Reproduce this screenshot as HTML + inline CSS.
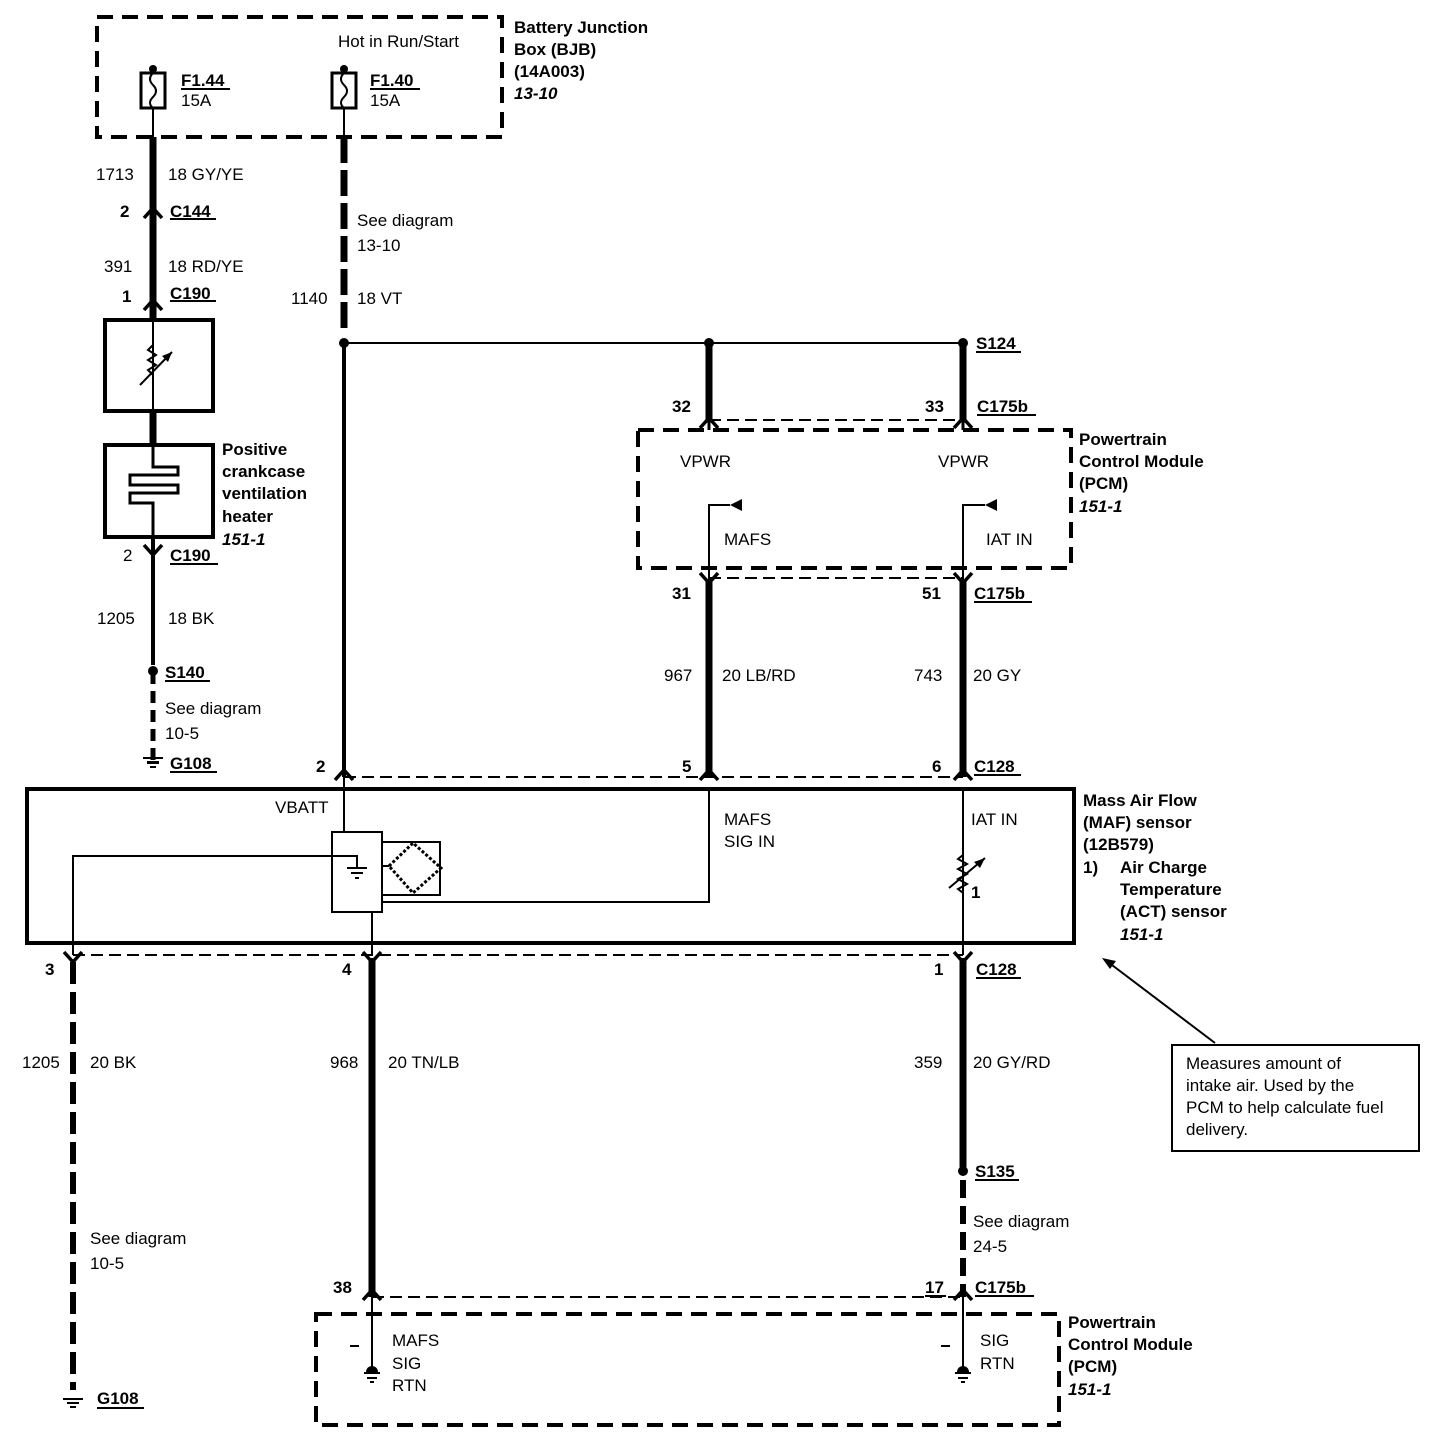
<!DOCTYPE html>
<html><head><meta charset="utf-8"><style>
html,body{margin:0;padding:0;background:#fff}
svg{display:block}
text{font-family:"Liberation Sans",Arial,sans-serif;font-size:17px;fill:#000}
.b{font-weight:bold}
.i{font-weight:bold;font-style:italic}
</style></head><body>
<svg width="1440" height="1456" viewBox="0 0 1440 1456" xmlns="http://www.w3.org/2000/svg">
<g fill="none" stroke="#000">
<rect x="97" y="17" width="405" height="120" stroke-width="4" stroke-dasharray="16,9"/>
<rect x="141" y="73" width="24" height="35" stroke-width="3"/>
<rect x="332" y="73" width="24" height="35" stroke-width="3"/>
<path d="M153 73 q-6 6 0 12 q6 6 0 12 q-6 6 0 11" stroke-width="2"/>
<path d="M344 73 q-6 6 0 12 q6 6 0 12 q-6 6 0 11" stroke-width="2"/>
<line x1="153" y1="108" x2="153" y2="137" stroke-width="2"/>
<line x1="344" y1="108" x2="344" y2="137" stroke-width="2"/>
<line x1="153" y1="137" x2="153" y2="320" stroke-width="7"/>
<rect x="105" y="320" width="108" height="91" stroke-width="4"/>
<line x1="153" y1="320" x2="153" y2="411" stroke-width="2"/>
<path d="M153 345 l-5 5 l8 5 l-8 5 l8 5 l-8 5 l5 5" stroke-width="2"/>
<line x1="140" y1="385" x2="172" y2="352" stroke-width="2"/>
<line x1="153" y1="411" x2="153" y2="445" stroke-width="7"/>
<rect x="105" y="445" width="108" height="92" stroke-width="4"/>
<path d="M153 445 V467 H178 V475 H130 V485 H178 V493 H130 V503 H153 V537" stroke-width="3"/>
<line x1="153" y1="537" x2="153" y2="665" stroke-width="4"/>
<line x1="153" y1="672" x2="153" y2="760" stroke-width="5" stroke-dasharray="12,7"/>
<line x1="344" y1="137" x2="344" y2="335" stroke-width="7" stroke-dasharray="26,7"/>
<line x1="344" y1="343" x2="344" y2="777" stroke-width="4"/>
<line x1="344" y1="343" x2="963" y2="343" stroke-width="2"/>
<line x1="709" y1="343" x2="709" y2="420" stroke-width="7"/>
<line x1="963" y1="343" x2="963" y2="420" stroke-width="7"/>
<rect x="638" y="430" width="433" height="138" stroke-width="4" stroke-dasharray="16,9"/>
<line x1="709" y1="420" x2="963" y2="420" stroke-width="2" stroke-dasharray="12,6"/>
<line x1="709" y1="420" x2="709" y2="430" stroke-width="3"/>
<line x1="963" y1="420" x2="963" y2="430" stroke-width="3"/>
<path d="M709 580 V505 H730" stroke-width="2"/>
<path d="M963 580 V505 H985" stroke-width="2"/>
<line x1="709" y1="578" x2="963" y2="578" stroke-width="2" stroke-dasharray="12,6"/>
<line x1="709" y1="580" x2="709" y2="777" stroke-width="7"/>
<line x1="963" y1="580" x2="963" y2="777" stroke-width="7"/>
<line x1="344" y1="777" x2="963" y2="777" stroke-width="2" stroke-dasharray="12,6"/>
<rect x="27" y="789" width="1047" height="154" stroke-width="4"/>
<line x1="344" y1="777" x2="344" y2="832" stroke-width="2"/>
<rect x="332" y="832" width="50" height="80" stroke-width="2"/>
<path d="M73 955 V856 H357 V867" stroke-width="2"/>
<line x1="347" y1="868" x2="367" y2="868" stroke-width="2"/>
<line x1="351" y1="873" x2="363" y2="873" stroke-width="2"/>
<line x1="355" y1="878" x2="359" y2="878" stroke-width="2"/>
<path d="M382 842 H440 V895 H382" stroke-width="2"/>
<path d="M382 866 H389" stroke-width="2"/>
<path d="M389 866 L413 843 L441 868 L413 893 Z" stroke-width="3" stroke-dasharray="3,2"/>
<path d="M382 902 H709 V789" stroke-width="2"/>
<line x1="372" y1="912" x2="372" y2="955" stroke-width="2"/>
<line x1="963" y1="789" x2="963" y2="955" stroke-width="2"/>
<path d="M963 855 l-5 4 l9 5 l-9 5 l9 5 l-9 5 l9 5 l-9 5 l5 4" stroke-width="2"/>
<line x1="949" y1="888" x2="985" y2="858" stroke-width="2"/>
<line x1="73" y1="955" x2="963" y2="955" stroke-width="2" stroke-dasharray="12,6"/>
<line x1="73" y1="962" x2="73" y2="1390" stroke-width="6" stroke-dasharray="22,8"/>
<line x1="372" y1="958" x2="372" y2="1297" stroke-width="7"/>
<line x1="963" y1="958" x2="963" y2="1167" stroke-width="7"/>
<line x1="963" y1="1180" x2="963" y2="1297" stroke-width="6" stroke-dasharray="18,8"/>
<line x1="372" y1="1297" x2="963" y2="1297" stroke-width="2" stroke-dasharray="12,6"/>
<rect x="316" y="1314" width="743" height="111" stroke-width="4" stroke-dasharray="16,9"/>
<line x1="372" y1="1297" x2="372" y2="1368" stroke-width="2"/>
<line x1="963" y1="1297" x2="963" y2="1368" stroke-width="2"/>
<rect x="1172" y="1045" width="247" height="106" stroke-width="2"/>
<line x1="1215" y1="1043" x2="1108" y2="962" stroke-width="2"/>
<g stroke-width="3.5">
<path d="M144 218 L153 208 L162 218"/>
<path d="M144 310 L153 300 L162 310"/>
<path d="M700 428 L709 418 L718 428"/>
<path d="M954 428 L963 418 L972 428"/>
<path d="M335 780 L344 770 L353 780"/>
<path d="M700 780 L709 770 L718 780"/>
<path d="M954 780 L963 770 L972 780"/>
<path d="M363 1300 L372 1290 L381 1300"/>
<path d="M954 1300 L963 1290 L972 1300"/>
<path d="M144 545 L153 555 L162 545"/>
<path d="M700 573 L709 583 L718 573"/>
<path d="M954 573 L963 583 L972 573"/>
<path d="M64 952 L73 962 L82 952"/>
<path d="M363 952 L372 962 L381 952"/>
<path d="M954 952 L963 962 L972 952"/>
</g>
<g stroke-width="2">
<line x1="181" y1="89" x2="230" y2="89"/>
<line x1="370" y1="89" x2="420" y2="89"/>
<line x1="170" y1="219" x2="216" y2="219"/>
<line x1="170" y1="301" x2="216" y2="301"/>
<line x1="170" y1="564" x2="218" y2="564"/>
<line x1="165" y1="681" x2="210" y2="681"/>
<line x1="170" y1="772" x2="217" y2="772"/>
<line x1="976" y1="352" x2="1021" y2="352"/>
<line x1="977" y1="415" x2="1036" y2="415"/>
<line x1="974" y1="602" x2="1032" y2="602"/>
<line x1="974" y1="775" x2="1021" y2="775"/>
<line x1="976" y1="978" x2="1021" y2="978"/>
<line x1="975" y1="1180" x2="1019" y2="1180"/>
<line x1="975" y1="1296" x2="1034" y2="1296"/>
<line x1="97" y1="1408" x2="144" y2="1408"/>
<line x1="925" y1="1296" x2="946" y2="1296"/>
</g>
</g>
<g fill="#000">
<circle cx="153" cy="69" r="4"/><circle cx="344" cy="69" r="4"/>
<circle cx="344" cy="343" r="5"/><circle cx="709" cy="343" r="5"/><circle cx="963" cy="343" r="5"/>
<circle cx="153" cy="671" r="5"/><circle cx="963" cy="1171" r="5"/>
<path d="M730 505 L742 499 L742 511 Z"/><path d="M985 505 L997 499 L997 511 Z"/>
<path d="M172 352 l-10 4 l6 6 Z"/><path d="M985 858 l-11 4 l6 6 Z"/>
<path d="M1102 958 l14 3 l-6 8 Z"/>
<rect x="147" y="761" width="12" height="3"/><rect x="150" y="766" width="6" height="2"/><rect x="143" y="757" width="20" height="2"/>
<rect x="63" y="1398" width="20" height="2"/><rect x="67" y="1402" width="12" height="2"/><rect x="70" y="1406" width="6" height="2"/>
<path d="M366 1372 a6 6 0 0 1 12 0 Z"/><rect x="364" y="1372" width="16" height="2"/><rect x="367" y="1377" width="10" height="2"/><rect x="370" y="1381" width="4" height="2"/>
<path d="M957 1372 a6 6 0 0 1 12 0 Z"/><rect x="955" y="1372" width="16" height="2"/><rect x="958" y="1377" width="10" height="2"/><rect x="961" y="1381" width="4" height="2"/>
<rect x="350" y="1345" width="9" height="2"/><rect x="941" y="1345" width="9" height="2"/>
</g>
<text x="514" y="33" class="b">Battery Junction</text>
<text x="514" y="55" class="b">Box (BJB)</text>
<text x="514" y="77" class="b">(14A003)</text>
<text x="514" y="99" class="i">13-10</text>
<text x="338" y="47">Hot in Run/Start</text>
<text x="181" y="86" class="b">F1.44</text><text x="181" y="106">15A</text>
<text x="370" y="86" class="b">F1.40</text><text x="370" y="106">15A</text>
<text x="96" y="180">1713</text><text x="168" y="180">18 GY/YE</text>
<text x="120" y="217" class="b">2</text><text x="170" y="217" class="b">C144</text>
<text x="104" y="272">391</text><text x="168" y="272">18 RD/YE</text>
<text x="122" y="302" class="b">1</text><text x="170" y="299" class="b">C190</text>
<text x="357" y="226">See diagram</text><text x="357" y="251">13-10</text>
<text x="291" y="304">1140</text><text x="357" y="304">18  VT</text>
<text x="222" y="455" class="b">Positive</text>
<text x="222" y="477" class="b">crankcase</text>
<text x="222" y="499" class="b">ventilation</text>
<text x="222" y="522" class="b">heater</text>
<text x="222" y="545" class="i">151-1</text>
<text x="123" y="561">2</text><text x="170" y="561" class="b">C190</text>
<text x="97" y="624">1205</text><text x="168" y="624">18 BK</text>
<text x="165" y="678" class="b">S140</text>
<text x="165" y="714">See diagram</text><text x="165" y="739">10-5</text>
<text x="170" y="769" class="b">G108</text>
<text x="976" y="349" class="b">S124</text>
<text x="672" y="412" class="b">32</text><text x="925" y="412" class="b">33</text><text x="977" y="412" class="b">C175b</text>
<text x="1079" y="445" class="b">Powertrain</text>
<text x="1079" y="467" class="b">Control Module</text>
<text x="1079" y="489" class="b">(PCM)</text>
<text x="1079" y="512" class="i">151-1</text>
<text x="680" y="467">VPWR</text><text x="938" y="467">VPWR</text>
<text x="724" y="545">MAFS</text><text x="986" y="545">IAT IN</text>
<text x="672" y="599" class="b">31</text><text x="922" y="599" class="b">51</text><text x="974" y="599" class="b">C175b</text>
<text x="664" y="681">967</text><text x="722" y="681">20  LB/RD</text>
<text x="914" y="681">743</text><text x="973" y="681">20  GY</text>
<text x="316" y="772" class="b">2</text><text x="682" y="772" class="b">5</text><text x="932" y="772" class="b">6</text><text x="974" y="772" class="b">C128</text>
<text x="275" y="813">VBATT</text>
<text x="724" y="825">MAFS</text><text x="724" y="847">SIG IN</text>
<text x="971" y="825">IAT IN</text>
<text x="971" y="898" class="b">1</text>
<text x="1083" y="806" class="b">Mass Air Flow</text>
<text x="1083" y="828" class="b">(MAF) sensor</text>
<text x="1083" y="850" class="b">(12B579)</text>
<text x="1083" y="873" class="b">1)</text>
<text x="1120" y="873" class="b">Air Charge</text>
<text x="1120" y="895" class="b">Temperature</text>
<text x="1120" y="917" class="b">(ACT) sensor</text>
<text x="1120" y="940" class="i">151-1</text>
<text x="45" y="975" class="b">3</text><text x="342" y="975" class="b">4</text><text x="934" y="975" class="b">1</text><text x="976" y="975" class="b">C128</text>
<text x="22" y="1068">1205</text><text x="90" y="1068">20  BK</text>
<text x="330" y="1068">968</text><text x="388" y="1068">20  TN/LB</text>
<text x="914" y="1068">359</text><text x="973" y="1068">20  GY/RD</text>
<text x="1186" y="1069">Measures amount of</text>
<text x="1186" y="1091">intake air. Used by the</text>
<text x="1186" y="1113">PCM to help calculate fuel</text>
<text x="1186" y="1135">delivery.</text>
<text x="975" y="1177" class="b">S135</text>
<text x="973" y="1227">See diagram</text><text x="973" y="1252">24-5</text>
<text x="90" y="1244">See diagram</text><text x="90" y="1269">10-5</text>
<text x="333" y="1293" class="b">38</text><text x="925" y="1293" class="b">17</text><text x="975" y="1293" class="b">C175b</text>
<text x="1068" y="1328" class="b">Powertrain</text>
<text x="1068" y="1350" class="b">Control Module</text>
<text x="1068" y="1372" class="b">(PCM)</text>
<text x="1068" y="1395" class="i">151-1</text>
<text x="392" y="1346">MAFS</text><text x="392" y="1369">SIG</text><text x="392" y="1391">RTN</text>
<text x="980" y="1346">SIG</text><text x="980" y="1369">RTN</text>
<text x="97" y="1404" class="b">G108</text>
</svg>
</body></html>
